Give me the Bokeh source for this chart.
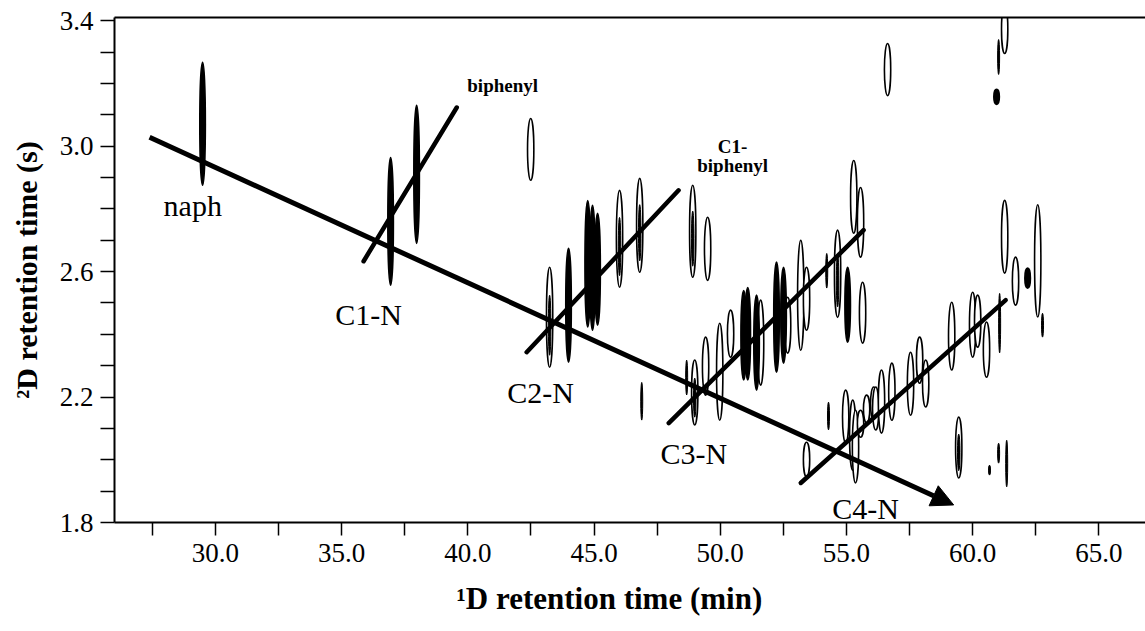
import numpy as np
from bokeh.plotting import figure
from bokeh.models import (ColumnDataSource, FixedTicker, PrintfTickFormatter,
                          LinearAxis, Title, Arrow, NormalHead, Range1d)
from bokeh.core.properties import value
from bokeh.embed import file_html
from bokeh.resources import INLINE

# ---------------- data ----------------
# peaks: 1D retention (min), 2D retention range (s), contour type
peak_rt1 = [29.49, 36.94, 37.97, 42.49, 43.24, 43.99, 44.75, 44.94, 45.14, 46.01,
            46.81, 46.89, 48.67, 48.91, 48.99, 49.42, 49.50, 49.98, 50.41, 50.93,
            51.09, 51.44, 51.60, 52.23, 52.51, 52.67, 53.19, 53.42, 53.42, 54.22,
            54.29, 54.65, 54.97, 55.05, 55.25, 55.29, 55.36, 55.56, 55.56, 55.64,
            55.80, 56.08, 56.16, 56.39, 56.63, 56.80, 57.54, 57.90, 58.14, 59.17,
            59.45, 60.00, 60.20, 60.55, 60.67, 60.95, 61.03, 61.03, 61.07, 61.27,
            61.27, 61.35, 61.70, 62.18, 62.58, 62.77]
peak_rt2_lo = [2.875, 2.556, 2.690, 2.891, 2.295, 2.311, 2.423, 2.413, 2.429, 2.550,
               2.598, 2.126, 2.206, 2.582, 2.111, 2.206, 2.572, 2.126, 2.327, 2.254,
               2.254, 2.222, 2.238, 2.279, 2.308, 2.340, 2.349, 2.413, 1.945, 2.547,
               2.095, 2.454, 2.053, 2.375, 1.967, 2.722, 1.926, 2.646, 2.072, 2.372,
               2.117, 2.126, 2.095, 2.085, 3.161, 2.126, 2.142, 2.244, 2.168, 2.286,
               1.942, 2.327, 2.359, 2.263, 1.951, 3.133, 3.228, 1.989, 2.340, 3.295,
               2.595, 1.913, 2.493, 2.547, 2.454, 2.391]
peak_rt2_hi = [3.267, 2.964, 3.130, 3.088, 2.614, 2.674, 2.827, 2.811, 2.786, 2.859,
               2.897, 2.247, 2.318, 2.875, 2.318, 2.391, 2.773, 2.435, 2.477, 2.540,
               2.550, 2.525, 2.509, 2.630, 2.614, 2.518, 2.700, 2.614, 2.056, 2.658,
               2.184, 2.732, 2.222, 2.614, 2.190, 2.954, 2.158, 2.868, 2.158, 2.566,
               2.206, 2.232, 2.232, 2.286, 3.327, 2.308, 2.343, 2.391, 2.318, 2.502,
               2.136, 2.534, 2.525, 2.439, 1.983, 3.181, 3.340, 2.053, 2.531, 3.450,
               2.827, 2.063, 2.646, 2.611, 2.814, 2.467]
peak_type = ["f", "f", "f", "o", "m", "f", "f", "f", "f", "m",
             "m", "l", "l", "m", "m", "o", "o", "o", "o", "f",
             "f", "f", "o", "f", "f", "o", "o", "o", "o", "l",
             "l", "m", "o", "f", "o", "o", "o", "o", "o", "o",
             "o", "o", "o", "o", "o", "o", "o", "o", "o", "o",
             "m", "o", "o", "o", "l", "f", "l", "l", "l", "o",
             "o", "l", "o", "f", "o", "l"]

# main trend arrow (naphthalene homologues)
main_rt1 = [27.39, 59.25]
main_rt2 = [3.028, 1.856]

# series lines
series_names = ["C1-N", "C2-N", "C3-N", "C4-N"]
series_rt1_start = [35.87, 42.33, 47.96, 53.19]
series_rt2_start = [2.633, 2.343, 2.117, 1.926]
series_rt1_end = [39.56, 48.35, 55.68, 61.31]
series_rt2_end = [3.123, 2.859, 2.732, 2.509]

label_text = ["naph", "C1-N", "C2-N", "C3-N", "C4-N"]
label_rt1 = [29.10, 36.07, 42.88, 48.95, 55.76]
label_rt2 = [2.811, 2.464, 2.216, 2.021, 1.846]

small_text = ["biphenyl", "C1-", "biphenyl"]
small_rt1 = [41.38, 50.49, 50.49]
small_rt2 = [3.193, 2.999, 2.939]

x_ticks = [30.0, 35.0, 40.0, 45.0, 50.0, 55.0, 60.0, 65.0]
x_minor = [27.5, 32.5, 37.5, 42.5, 47.5, 52.5, 57.5, 62.5]
y_ticks = [1.8, 2.2, 2.6, 3.0, 3.4]
y_minor = [1.9, 2.0, 2.1, 2.3, 2.4, 2.5, 2.7, 2.8, 2.9, 3.1, 3.2, 3.3]

# ---------------- figure ----------------
SERIF = "Liberation Serif"
p = figure(width=1145, height=631, x_range=Range1d(26.0, 66.85), y_range=Range1d(1.8, 3.41),
           output_backend="svg", toolbar_location=None,
           min_border_left=114, min_border_right=0, min_border_top=17, min_border_bottom=109)
p.outline_line_color = None
p.xgrid.visible = False
p.ygrid.visible = False
p.background_fill_color = "white"
p.border_fill_color = "white"

for ax, tk, mn, so, tl in ((p.xaxis[0], x_ticks, x_minor, 8, 13), (p.yaxis[0], y_ticks, y_minor, 7, 14)):
    ax.ticker = FixedTicker(ticks=tk, minor_ticks=mn)
    ax.formatter = PrintfTickFormatter(format="%.1f")
    ax.major_tick_out = tl
    ax.minor_tick_out = tl
    ax.major_tick_in = 0
    ax.minor_tick_in = 0
    ax.axis_line_width = 2
    ax.axis_line_color = "black"
    ax.major_tick_line_width = 1.5
    ax.minor_tick_line_width = 1.5
    ax.major_tick_line_color = "black"
    ax.minor_tick_line_color = "black"
    ax.major_label_text_font = SERIF
    ax.major_label_text_font_size = "27px"
    ax.major_label_text_color = "black"
    ax.major_label_standoff = so

p.yaxis.axis_label = "²D retention time (s)"
p.yaxis.axis_label_text_font = SERIF
p.yaxis.axis_label_text_font_style = "bold"
p.yaxis.axis_label_text_font_size = "30px"
p.yaxis.axis_label_text_color = "black"
p.yaxis.axis_label_standoff = 14

top_axis = LinearAxis(ticker=FixedTicker(ticks=[]), major_label_text_font_size="0px",
                      axis_line_width=2, axis_line_color="black",
                      major_tick_out=0, minor_tick_out=0, major_tick_in=0, minor_tick_in=0)
p.add_layout(top_axis, "above")

p.add_layout(Title(text="¹D retention time (min)", align="left", offset=342,
                   text_font=SERIF, text_font_style="bold", text_font_size="31px",
                   text_color="black", standoff=28), "below")

# peaks
rt1 = np.array(peak_rt1)
lo = np.array(peak_rt2_lo)
hi = np.array(peak_rt2_hi)
kind = np.array(peak_type)
yc = (lo + hi) / 2
hh = hi - lo

def src(mask, hscale=1.0, yshift=0.0):
    return ColumnDataSource(dict(x=rt1[mask], y=yc[mask] - yshift * hh[mask], h=hh[mask] * hscale))

W = 0.25
p.ellipse(x="x", y="y", width=W, height="h", source=src(kind == "o"),
          fill_color="white", line_color="black", line_width=1.6)
p.ellipse(x="x", y="y", width=W, height="h", source=src(kind == "m"),
          fill_color="white", line_color="black", line_width=1.6)
p.ellipse(x="x", y="y", width=0.1, height="h", source=src(kind == "m", 0.6, 0.08),
          fill_color="black", line_color="black", line_width=1)
p.ellipse(x="x", y="y", width=0.22, height="h", source=src(kind == "f"),
          fill_color="black", line_color="black", line_width=1.6)
p.ellipse(x="x", y="y", width=0.08, height="h", source=src(kind == "l"),
          fill_color="black", line_color="black", line_width=1)

# series lines
p.segment(x0=series_rt1_start, y0=series_rt2_start, x1=series_rt1_end, y1=series_rt2_end,
          line_color="black", line_width=4.5, line_cap="round")

# main arrow
p.add_layout(Arrow(end=NormalHead(size=22, fill_color="black", line_color="black", line_width=1),
                   x_start=main_rt1[0], y_start=main_rt2[0], x_end=main_rt1[1], y_end=main_rt2[1],
                   line_width=5, line_color="black"))

# labels
p.text(x=label_rt1, y=label_rt2, text=label_text, text_font=value(SERIF),
       text_font_size="30px", text_align="center", text_baseline="alphabetic", text_color="black")
p.text(x=small_rt1, y=small_rt2, text=small_text, text_font=value(SERIF), text_font_style="bold",
       text_font_size="19px", text_align="center", text_baseline="alphabetic", text_color="black")

open("out.html", "w").write(file_html(p, INLINE))
